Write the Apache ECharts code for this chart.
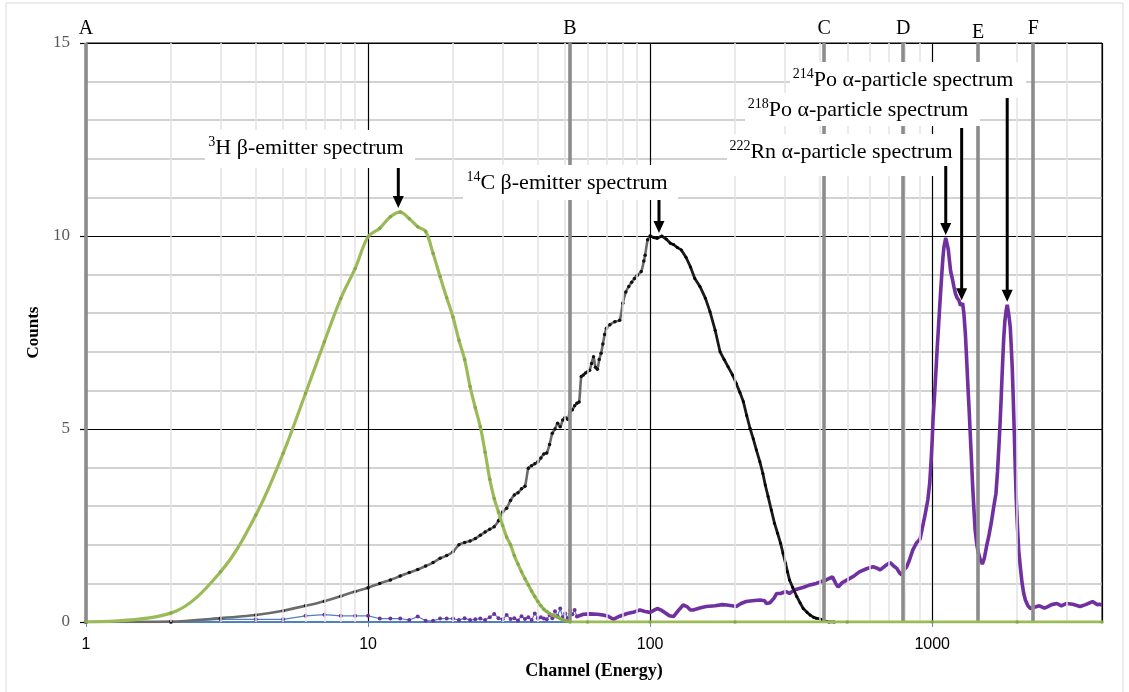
<!DOCTYPE html>
<html><head><meta charset="utf-8">
<script src="https://cdn.jsdelivr.net/npm/echarts@6/dist/echarts.min.js"></script>
<style>html,body{margin:0;padding:0;background:#fff}#c{width:1129px;height:692px}</style>
</head><body><div id="c"></div>
<script>
// ---------- data ----------
const h3Channels = [1,2,3,4,5,6,7,8,9,10,11,12,13,14,15,16,17,18,19,20,21,22,23,24,25,26,27,28,29,30,31,32,33,34,35,36,37,38,39,40,41,42,43,44,45,46,47,48,49,50,51,52,60,100,200,500,1000,2000,4000];
const h3Counts = [0,0.23,1.30,2.77,4.37,5.92,7.26,8.38,9.16,9.98,10.2,10.5,10.62,10.45,10.24,10.12,9.55,8.95,8.4,7.9,7.3,6.8,6.1,5.55,5.06,4.4,3.7,3.2,2.85,2.5,2.2,2.0,1.72,1.5,1.3,1.12,0.96,0.8,0.66,0.53,0.42,0.33,0.27,0.22,0.18,0.15,0.12,0.09,0.06,0.04,0.02,0,0,0,0,0,0,0,0];

const c14Channels = [1,2,3,4,5,6,7,8,9,10,11,12,13,14,15,16,17,18,19,20,21,22,23,24,25,26,27,28,29,30,31,32,33,34,35,36,37,38,39,40,41,42,43,44,45,46,47,48,49,50,51,52,53,54,55,56,57,58,59,60,61,62,63,64,65,66,67,68,69,70,72,75,78,80,82,84,86,88,90,93,95,96,98,100,103,106,110,114,118,121,125,129,134,139,144,150,157,163,170,177,183,189,196,202,208,214,220,226,232,238,245,251,256,262,269,276,283,290,296,302,307,312,320,331,340,349,360,369,380,388,400,409,420,430,450];
const c14Counts = [0,0.01,0.1,0.18,0.29,0.42,0.54,0.67,0.79,0.89,1.0,1.09,1.19,1.28,1.36,1.45,1.54,1.65,1.72,1.82,2.0,2.06,2.1,2.16,2.25,2.33,2.4,2.47,2.62,2.85,2.95,3.15,3.29,3.35,3.45,3.52,3.98,4.05,4.1,4.15,4.25,4.35,4.38,4.6,4.89,5.0,5.15,5.06,5.23,5.3,5.25,5.45,5.5,5.6,5.67,5.7,6.36,6.4,6.45,6.48,6.52,6.7,6.87,6.6,6.55,6.8,6.96,7.2,7.45,7.61,7.7,7.78,7.82,8.26,8.55,8.69,8.8,8.9,8.98,9.08,9.35,9.5,9.9,10.0,9.96,9.94,10.0,9.92,9.81,9.78,9.7,9.64,9.45,9.2,8.9,8.7,8.39,8.04,7.56,7.0,6.8,6.61,6.4,6.18,5.95,5.71,5.35,5.02,4.75,4.46,4.15,3.85,3.55,3.25,2.9,2.56,2.3,2.04,1.78,1.52,1.3,1.09,0.9,0.66,0.5,0.35,0.25,0.18,0.12,0.1,0.08,0.05,0.02,0,0];

const alphaLowChannels = [1,2,3,4,5,6,7,8,9,10,11,12,13,14,15,16,17,18,19,20,21,22,23,24,25,26,27,28,29,30,31,32,33,34,35,36,37,38,39,40,41,42,43,44,45,46,47,48,49,50,51,52,53,54,55];
const alphaLowCounts = [0,0,0.07,0.07,0.07,0.16,0.19,0.16,0.16,0.16,0.09,0.09,0.09,0.05,0.14,0.03,0.03,0.09,0.09,0.09,0.05,0.1,0.05,0.07,0.09,0.05,0.12,0.21,0.1,0.07,0.18,0.08,0.1,0.04,0.15,0.08,0.12,0.05,0.22,0.1,0.12,0.09,0.07,0.18,0.1,0.28,0.15,0.35,0.12,0.22,0.1,0.31,0.2,0.31,0.14];

const alphaChannels = [55,58,61,65,68,71,74,78,83,87,92,96,100,103,106,110,114,117,121,126,131,135,139,142,150,158,170,180,187,195,202,210,219,230,245,255,258,266,275,281,290,303,312,320,331,338,350,365,388,405,421,443,455,464,480,511,530,552,585,617,635,654,680,709,730,749,765,780,795,812,830,854,880,906,925,945,965,980,990,1000,1008,1020,1030,1042,1053,1068,1082,1092,1101,1110,1117,1125,1133,1141,1152,1163,1178,1194,1210,1225,1243,1260,1282,1295,1311,1325,1339,1352,1364,1378,1390,1405,1420,1440,1459,1480,1506,1530,1558,1590,1619,1650,1683,1705,1729,1742,1755,1772,1792,1810,1830,1845,1855,1870,1891,1905,1922,1938,1955,1970,1987,2005,2026,2055,2084,2110,2140,2185,2231,2300,2400,2500,2571,2650,2770,2870,2997,3150,3344,3500,3700,3850,3920,4000];
const alphaCounts = [0.14,0.2,0.21,0.2,0.18,0.15,0.07,0.15,0.22,0.25,0.31,0.27,0.25,0.3,0.35,0.3,0.22,0.16,0.14,0.3,0.44,0.4,0.31,0.31,0.36,0.4,0.42,0.45,0.44,0.42,0.4,0.48,0.53,0.55,0.57,0.55,0.48,0.5,0.62,0.74,0.74,0.79,0.74,0.8,0.85,0.87,0.9,0.95,1.0,1.05,1.09,1.17,1.0,0.91,1.02,1.13,1.2,1.3,1.38,1.43,1.4,1.35,1.45,1.54,1.45,1.39,1.28,1.22,1.35,1.43,1.6,1.87,2.05,2.15,2.47,2.8,3.16,3.6,4.11,4.7,5.32,5.9,6.44,7.1,7.65,8.4,9.03,9.45,9.72,9.85,9.95,9.85,9.75,9.64,9.35,9.08,8.9,8.69,8.5,8.4,8.34,8.2,8.26,8.0,7.48,6.8,6.1,5.5,4.89,4.2,3.59,2.95,2.38,2.0,1.78,1.62,1.5,1.65,1.95,2.25,2.56,2.95,3.33,3.9,4.72,5.2,5.75,6.5,7.31,7.8,8.08,8.22,8.17,7.95,7.65,7.2,6.61,5.8,4.89,4.0,3.16,2.5,1.87,1.4,1.0,0.75,0.57,0.42,0.35,0.38,0.42,0.36,0.4,0.45,0.48,0.42,0.48,0.46,0.4,0.45,0.53,0.45,0.46,0.44];

const windowLabels = ['A','B','C','D','E','F'];
const windowChannels = [1, 52, 414, 789, 1456, 2281];

const yTicks = [0, 5, 10, 15];
const xTickDecades = [1, 10, 100, 1000];

// annotations: superscript, main text, peak [channel, counts] the arrow points to
const annSup = ['3', '14', '222', '218', '214'];
const annText = ['H β-emitter spectrum', 'C β-emitter spectrum', 'Rn α-particle spectrum', 'Po α-particle spectrum', 'Po α-particle spectrum'];
const annPeakChannel = [12.8, 107.5, 1117, 1272, 1845];
const annPeakCounts = [10.65, 10.0, 9.95, 8.26, 8.22];

// ---------- layout (pixels) ----------
const annTextPos = [[306,148],[567,183],[841,152],[858,110],[903,80]];
const annBox = [[205,130,210,38],[463,165,215,35],[727,134,236,42],[745,93,235,33],[790,62,236,36]];
const annArrowTop = [168, 200, 166, 128, 98];

const zip = (a, b) => a.map((v, i) => [v, b[i]]);
const SERIF = '"Liberation Serif", "Times New Roman", serif';

const chart = echarts.init(document.getElementById('c'), null, {renderer: 'canvas'});

// minor vertical grid lines at 2..9 of each decade
const minorX = [];
for (let d = 1; d <= 1000; d *= 10) for (let k = 2; k <= 9; k++) { if (d * k < 4000) minorX.push({xAxis: d * k}); }

const c14Low = zip(c14Channels, c14Counts).filter(p => p[0] <= 100);
const c14High = zip(c14Channels, c14Counts).filter(p => p[0] >= 100);

chart.setOption({
  animation: false,
  backgroundColor: '#fff',
  grid: {left: 86, top: 43, right: 27, bottom: 70, show: true, borderColor: '#000', borderWidth: 1, backgroundColor: 'transparent'},
  xAxis: {
    type: 'log', logBase: 10, min: 1, max: 4000,
    name: 'Channel (Energy)', nameLocation: 'middle', nameGap: 40,
    nameTextStyle: {fontFamily: SERIF, fontWeight: 'bold', fontSize: 18, color: '#000'},
    axisLine: {show: true, lineStyle: {color: '#4f81bd', width: 2}},
    axisTick: {show: true, length: 5, lineStyle: {color: '#5b8bd0', width: 1}},
    axisLabel: {fontFamily: '"Liberation Sans", Arial, sans-serif', fontSize: 16, color: '#000', margin: 15, showMaxLabel: false,
      formatter: v => xTickDecades.includes(Math.round(v)) ? String(Math.round(v)) : ''},
    splitLine: {show: true, lineStyle: {color: '#000', width: 1.2}},
    minorTick: {show: false}, minorSplitLine: {show: false}
  },
  yAxis: {
    type: 'value', min: 0, max: 15, interval: 5,
    name: 'Counts', nameLocation: 'middle', nameGap: 42, nameRotate: 90,
    nameTextStyle: {fontFamily: SERIF, fontWeight: 'bold', fontSize: 17, color: '#000'},
    axisLine: {show: false},
    axisTick: {show: true, length: 6, lineStyle: {color: '#000', width: 1.2}},
    axisLabel: {fontFamily: SERIF, fontSize: 17, color: '#595959', margin: 16,
      formatter: v => yTicks.includes(v) ? String(v) : ''},
    splitLine: {show: true, lineStyle: {color: '#000', width: 1.2}},
    minorTick: {show: false, splitNumber: 5},
    minorSplitLine: {show: true, lineStyle: {color: '#c4c4c4', width: 1.5}}
  },
  series: [
    {type: 'line', name: 'minorgrid', data: [[1, 0]], showSymbol: false, lineStyle: {opacity: 0}, z: 1, clip: false, silent: true,
      markLine: {silent: true, symbol: 'none', label: {show: false}, lineStyle: {color: '#e3e3e3', width: 1.5, type: 'solid'}, data: minorX}},
    {type: 'line', name: 'alphaLow', data: zip(alphaLowChannels, alphaLowCounts), z: 3,
      lineStyle: {color: '#4f81bd', width: 1.2}, symbol: 'circle', symbolSize: 4, showAllSymbol: true,
      itemStyle: {color: '#7030a0', borderWidth: 0}},
    {type: 'line', name: 'alpha', data: zip(alphaChannels, alphaCounts), z: 3,
      lineStyle: {color: '#7030a0', width: 3.6}, showSymbol: false},
    {type: 'line', name: 'c14low', data: c14Low, z: 4, smooth: 0.25,
      lineStyle: {color: '#6b6b6b', width: 2.6}, symbol: 'circle', symbolSize: 3.5, showAllSymbol: true,
      itemStyle: {color: '#111', borderWidth: 0}},
    {type: 'line', name: 'c14high', data: c14High, z: 4,
      lineStyle: {color: '#1a1a1a', width: 2.8}, symbol: 'circle', symbolSize: 3, showAllSymbol: true,
      itemStyle: {color: '#000', borderWidth: 0}},
    {type: 'line', name: 'h3', data: zip(h3Channels, h3Counts), z: 5, smooth: 0.35,
      lineStyle: {color: '#9bbb59', width: 3.2}, symbol: 'circle', symbolSize: 3.5, showAllSymbol: true,
      itemStyle: {color: '#86a84a', borderWidth: 0}},
    {type: 'line', name: 'windows', data: [[1, 0]], showSymbol: false, lineStyle: {opacity: 0}, z: 20, clip: false, silent: true,
      markLine: {silent: true, symbol: 'none', lineStyle: {color: '#8c8c8c', width: 3.6, type: 'solid'},
        label: {show: true, position: 'end', formatter: '{b}', fontFamily: SERIF, fontSize: 20, color: '#000', distance: 4},
        data: windowChannels.map((c, i) => ({xAxis: c, name: windowLabels[i], label: {distance: i === 4 ? 0 : 4}}))}}
  ]
});

// annotations
const g = [];
for (let i = 0; i < annText.length; i++) {
  const b = annBox[i];
  g.push({type: 'rect', shape: {x: b[0], y: b[1], width: b[2], height: b[3]}, style: {fill: '#fff'}, z: 10, silent: true});
  g.push({type: 'text', x: annTextPos[i][0], y: annTextPos[i][1], z: 11, silent: true,
    style: {text: '{s|' + annSup[i] + '}{n|' + annText[i] + '}', align: 'center', verticalAlign: 'middle',
      rich: {n: {fontFamily: SERIF, fontSize: 22, lineHeight: 26, color: '#000'},
             s: {fontFamily: SERIF, fontSize: 14, lineHeight: 15, verticalAlign: 'top', color: '#000'}}}});
  const tip = chart.convertToPixel({xAxisIndex: 0, yAxisIndex: 0}, [annPeakChannel[i], annPeakCounts[i]]);
  const x = tip[0], yTip = tip[1] - 3, yTop = annArrowTop[i];
  g.push({type: 'line', shape: {x1: x, y1: yTop, x2: x, y2: yTip - 10}, style: {stroke: '#000', lineWidth: 3}, z: 30, silent: true});
  g.push({type: 'polygon', shape: {points: [[x - 5.5, yTip - 12], [x + 5.5, yTip - 12], [x, yTip]]}, style: {fill: '#000'}, z: 30, silent: true});
}
g.push({type: 'rect', shape: {x: 6, y: 3, width: 1117, height: 700}, style: {fill: 'none', stroke: '#d9d9d9', lineWidth: 1}, z: 0, silent: true});
chart.setOption({graphic: {elements: g}});
</script></body></html>
